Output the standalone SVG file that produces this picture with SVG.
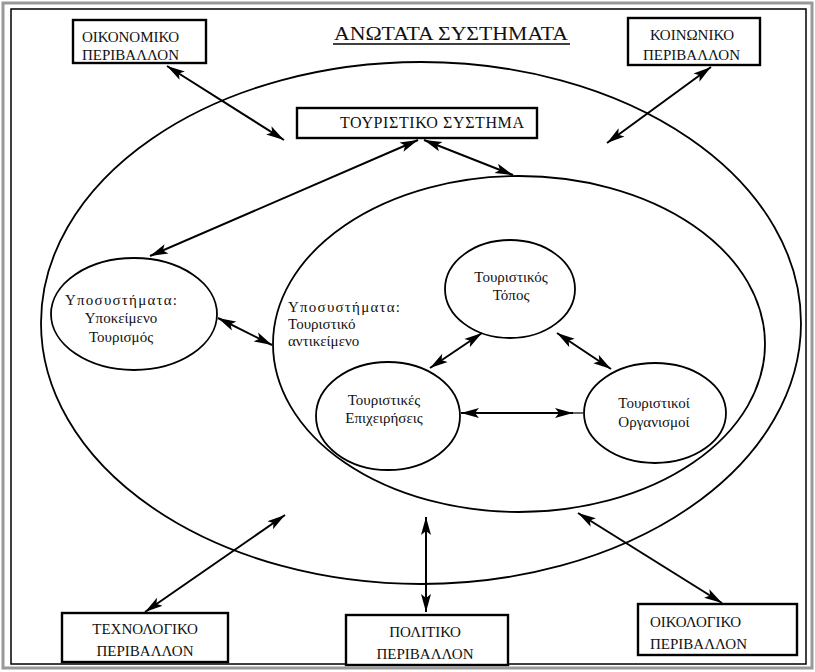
<svg xmlns="http://www.w3.org/2000/svg" width="815" height="672" viewBox="0 0 815 672">
<defs>
<style>
.bx{fill:#fff;stroke:#000;stroke-width:2.4}
.el{fill:none;stroke:#000;stroke-width:1.8}
.tc{text-anchor:middle}
.ar{stroke:#000;stroke-width:2;fill:none;marker-start:url(#ah);marker-end:url(#ah)}
</style>
<marker id="ah" markerUnits="userSpaceOnUse" markerWidth="19" markerHeight="11" refX="18" refY="5.5" orient="auto-start-reverse">
<path d="M0,0.5 L18,5.5 L0,10.5 L4,5.5 z" fill="#000"/>
</marker>
</defs>
<rect width="815" height="672" fill="#fff"/>
<g id="frame">
<rect x="3" y="3" width="809" height="665" fill="none" stroke="#999" stroke-width="3"/>
<rect x="11" y="9" width="795" height="655" fill="none" stroke="#000" stroke-width="1.5"/>
</g>
<g font-family="'Liberation Serif','DejaVu Serif','Times New Roman',serif" font-size="15" fill="#111">
<g id="title">
<text x="451" y="40" class="tc" font-size="18" textLength="234" lengthAdjust="spacingAndGlyphs">ΑΝΩΤΑΤΑ ΣΥΣΤΗΜΑΤΑ</text>
<line x1="333" y1="44" x2="570" y2="44" stroke="#000" stroke-width="1.5"/>
</g>
<g id="outer-system">
<ellipse class="el" cx="421" cy="323" rx="380" ry="261" stroke-width="2"/>
</g>
<g id="inner-system">
<ellipse class="el" cx="519" cy="344" rx="246" ry="168"/>
<text x="288" y="312" textLength="112">Υποσυστήματα:</text>
<text x="288" y="329">Τουριστικό</text>
<text x="288" y="346">αντικείμενο</text>
</g>
<g id="oikonomiko">
<rect class="bx" x="73" y="20" width="133" height="43"/>
<text x="82" y="42">ΟΙΚΟΝΟΜΙΚΟ</text>
<text x="82" y="60">ΠΕΡΙΒΑΛΛΟΝ</text>
</g>
<g id="koinoniko">
<rect class="bx" x="628" y="18" width="132" height="47"/>
<text x="650" y="40">ΚΟΙΝΩΝΙΚΟ</text>
<text x="643" y="60">ΠΕΡΙΒΑΛΛΟΝ</text>
</g>
<g id="touristiko-systima">
<rect class="bx" x="297" y="108" width="240" height="30"/>
<text x="340" y="128" font-size="16" textLength="184">ΤΟΥΡΙΣΤΙΚΟ ΣΥΣΤΗΜΑ</text>
</g>
<g id="ypokeimeno">
<ellipse class="el" cx="134" cy="314" rx="83" ry="56"/>
<text x="121" y="305" class="tc" textLength="112">Υποσυστήματα:</text>
<text x="121" y="323" class="tc">Υποκείμενο</text>
<text x="121" y="342" class="tc">Τουρισμός</text>
</g>
<g id="topos">
<ellipse class="el" cx="510" cy="289" rx="65" ry="49"/>
<text x="511" y="282" class="tc">Τουριστικός</text>
<text x="511" y="300" class="tc">Τόπος</text>
</g>
<g id="epixeiriseis">
<ellipse class="el" cx="388" cy="416" rx="72" ry="54"/>
<text x="384" y="405" class="tc">Τουριστικές</text>
<text x="384" y="423" class="tc">Επιχειρήσεις</text>
</g>
<g id="organismoi">
<ellipse class="el" cx="655" cy="413" rx="71" ry="50"/>
<text x="654" y="408" class="tc">Τουριστικοί</text>
<text x="654" y="427" class="tc">Οργανισμοί</text>
</g>
<g id="texnologiko">
<rect class="bx" x="62" y="613" width="166" height="49"/>
<text x="145" y="634" class="tc">ΤΕΧΝΟΛΟΓΙΚΟ</text>
<text x="145" y="656" class="tc">ΠΕΡΙΒΑΛΛΟΝ</text>
</g>
<g id="politiko">
<rect class="bx" x="346" y="615" width="162" height="50"/>
<text x="425" y="637" class="tc">ΠΟΛΙΤΙΚΟ</text>
<text x="425" y="659" class="tc">ΠΕΡΙΒΑΛΛΟΝ</text>
</g>
<g id="oikologiko">
<rect class="bx" x="638" y="604" width="159" height="51"/>
<text x="650" y="627">ΟΙΚΟΛΟΓΙΚΟ</text>
<text x="650" y="649">ΠΕΡΙΒΑΛΛΟΝ</text>
</g>
</g>
<g id="connectors">
<line class="ar" x1="167" y1="66" x2="284" y2="140"/>
<line class="ar" x1="711" y1="67" x2="607" y2="143"/>
<line class="ar" x1="418" y1="140" x2="150" y2="256"/>
<line class="ar" x1="424" y1="140" x2="513" y2="175"/>
<line class="ar" x1="218" y1="318" x2="272" y2="345"/>
<line class="ar" x1="482" y1="333" x2="430" y2="368"/>
<line class="ar" x1="557" y1="333" x2="611" y2="369"/>
<line class="ar" x1="461" y1="413" x2="573" y2="413"/>
<line x1="573" y1="413" x2="583" y2="413" stroke="#000" stroke-width="1.2"/>
<line class="ar" x1="285" y1="515" x2="145" y2="612"/>
<line class="ar" x1="426" y1="517" x2="426" y2="612"/>
<line class="ar" x1="578" y1="513" x2="722" y2="603"/>
</g>
</svg>
